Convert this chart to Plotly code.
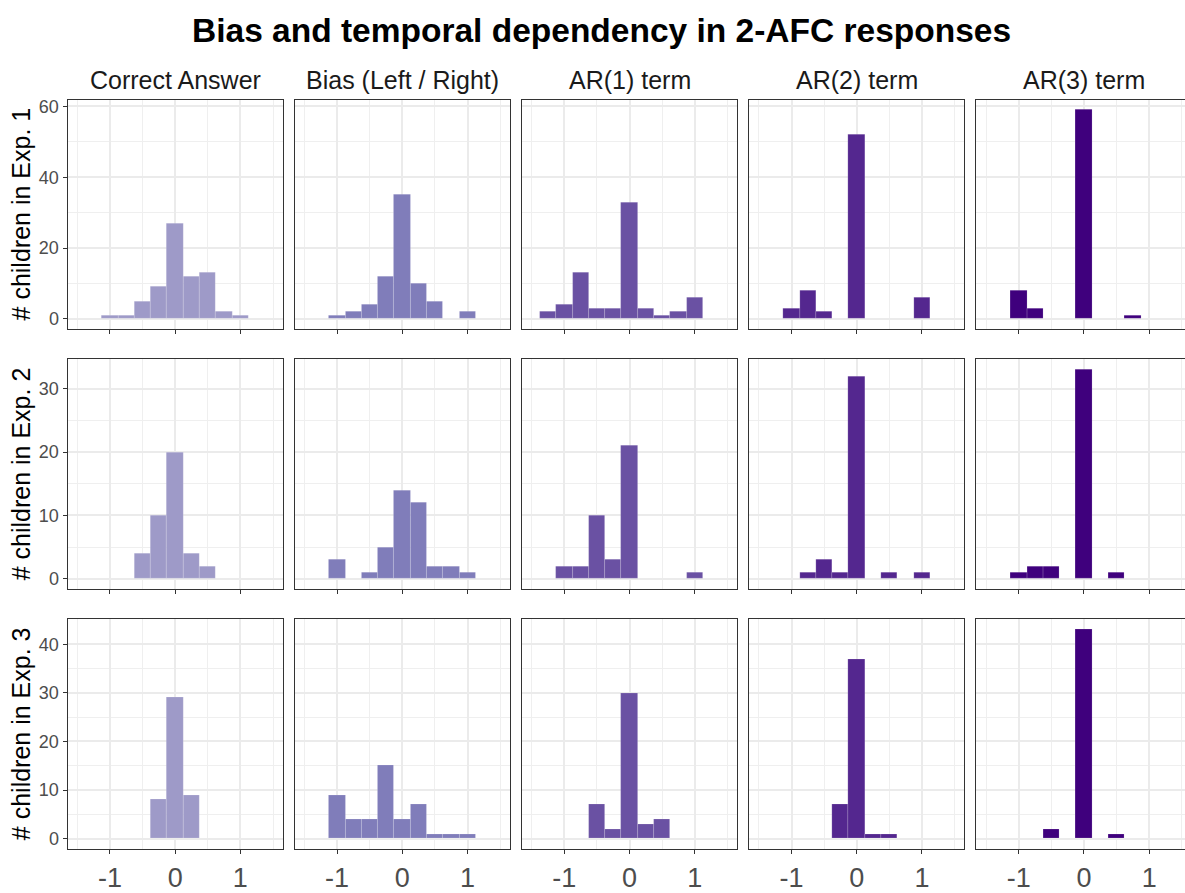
import plotly.graph_objects as go

# ---------------- data ----------------
bin_centers = [-1.25, -1.0, -0.75, -0.5, -0.25, 0.0, 0.25, 0.5, 0.75, 1.0]
bin_width = 0.25

terms = ["Correct Answer", "Bias (Left / Right)", "AR(1) term", "AR(2) term", "AR(3) term"]
experiments = ["# children in Exp. 1", "# children in Exp. 2", "# children in Exp. 3"]

exp1_correct = [0, 1, 1, 5, 9, 27, 12, 13, 2, 1]
exp1_bias    = [0, 1, 2, 4, 12, 35, 10, 5, 0, 2]
exp1_ar1     = [2, 4, 13, 3, 3, 33, 3, 1, 2, 6]
exp1_ar2     = [0, 3, 8, 2, 0, 52, 0, 0, 0, 6]
exp1_ar3     = [0, 8, 3, 0, 0, 59, 0, 0, 1, 0]

exp2_correct = [0, 0, 0, 4, 10, 20, 4, 2, 0, 0]
exp2_bias    = [0, 3, 0, 1, 5, 14, 12, 2, 2, 1]
exp2_ar1     = [0, 2, 2, 10, 3, 21, 0, 0, 0, 1]
exp2_ar2     = [0, 0, 1, 3, 1, 32, 0, 1, 0, 1]
exp2_ar3     = [0, 1, 2, 2, 0, 33, 0, 1, 0, 0]

exp3_correct = [0, 0, 0, 0, 8, 29, 9, 0, 0, 0]
exp3_bias    = [0, 9, 4, 4, 15, 4, 7, 1, 1, 1]
exp3_ar1     = [0, 0, 0, 7, 2, 30, 3, 4, 0, 0]
exp3_ar2     = [0, 0, 0, 0, 7, 37, 1, 1, 0, 0]
exp3_ar3     = [0, 0, 0, 2, 0, 43, 0, 1, 0, 0]

counts = [
    [exp1_correct, exp1_bias, exp1_ar1, exp1_ar2, exp1_ar3],
    [exp2_correct, exp2_bias, exp2_ar1, exp2_ar2, exp2_ar3],
    [exp3_correct, exp3_bias, exp3_ar1, exp3_ar2, exp3_ar3],
]

x_ticks = [-1, 0, 1]
x_minor = [-1.5, -0.5, 0.5, 1.5]
y_ticks = [[0, 20, 40, 60], [0, 10, 20, 30], [0, 10, 20, 30, 40]]
y_minor = [[10, 30, 50], [5, 15, 25], [5, 15, 25, 35]]

colors = ["#9E9AC8", "#807DBA", "#6A51A3", "#54278F", "#3F007D"]

# ---------------- layout geometry (pixels) ----------------
W, H = 1185, 893
col_left0, col_pitch, col_w = 67.5, 227.2, 215.3
row_top0, row_pitch, row_h = 98.3, 264.6, 234.0
x_lo, x_hi = -1.65, 1.65

fig = go.Figure()
axis_font = "Liberation Sans, Arial, sans-serif"

for r in range(3):
    ymax = max(max(c) for c in counts[r])
    pad = ymax * 0.05
    top = row_top0 + r * row_pitch
    bot = top + row_h
    ydom = [1 - bot / H, 1 - top / H]
    for c in range(5):
        idx = r * 5 + c + 1
        xs = "" if idx == 1 else str(idx)
        left = col_left0 + c * col_pitch
        right = left + col_w
        xr = [x_lo, x_hi]
        if right > W:
            # panel is cut at the page edge, as in the original
            frac = (W - left) / col_w
            xr = [x_lo, x_lo + frac * (x_hi - x_lo)]
            right = W
        xdom = [left / W, right / W]

        vals = counts[r][c]
        bx = [b for b, v in zip(bin_centers, vals) if v > 0]
        by = [v for v in vals if v > 0]
        fig.add_trace(go.Bar(
            x=bx, y=by, width=bin_width,
            marker=dict(color=colors[c], line=dict(color="rgba(255,255,255,0.3)", width=0.5)),
            xaxis="x" + xs, yaxis="y" + xs, showlegend=False, hoverinfo="x+y",
        ))

        fig.layout["xaxis" + xs] = dict(
            domain=xdom, range=xr, anchor="y" + xs,
            tickvals=x_ticks, ticktext=[str(t) for t in x_ticks],
            showticklabels=(r == 2),
            ticks="outside", ticklen=4, tickwidth=1, tickcolor="#333333",
            tickfont=dict(family=axis_font, size=27, color="#4D4D4D"),
            ticklabelstandoff=1,
            showgrid=True, gridcolor="#EBEBEB", gridwidth=1.6,
            minor=dict(tickvals=x_minor, showgrid=True, gridcolor="#EFEFEF", gridwidth=1, ticks=""),
            showline=True, linecolor="#333333", linewidth=1, mirror=True,
            zeroline=False, fixedrange=True,
        )
        fig.layout["yaxis" + xs] = dict(
            domain=ydom, range=[-pad, ymax + pad], anchor="x" + xs,
            tickvals=y_ticks[r], ticktext=[str(t) for t in y_ticks[r]],
            showticklabels=(c == 0),
            ticks="outside" if c == 0 else "", ticklen=4, tickwidth=1, tickcolor="#333333",
            tickfont=dict(family=axis_font, size=18, color="#4D4D4D"),
            showgrid=True, gridcolor="#EBEBEB", gridwidth=1.6,
            minor=dict(tickvals=y_minor[r], showgrid=True, gridcolor="#EFEFEF", gridwidth=1, ticks=""),
            showline=True, linecolor="#333333", linewidth=1, mirror=(c < 4),
            zeroline=False, fixedrange=True,
        )

annotations = []
# strip labels
for c, t in enumerate(terms):
    cx = col_left0 + c * col_pitch + col_w / 2
    annotations.append(dict(
        text=t, x=cx / W, y=1 - 78 / H, xref="paper", yref="paper",
        xanchor="center", yanchor="middle", showarrow=False,
        font=dict(family=axis_font, size=25, color="#1A1A1A"),
    ))
# row labels
for r, t in enumerate(experiments):
    cy = row_top0 + r * row_pitch + row_h / 2
    annotations.append(dict(
        text=t, x=21 / W, y=1 - cy / H, xref="paper", yref="paper",
        xanchor="center", yanchor="middle", showarrow=False, textangle=-90,
        font=dict(family=axis_font, size=25, color="#000000"),
    ))
# title
annotations.append(dict(
    text="<b>Bias and temporal dependency in 2-AFC responses</b>",
    x=601 / W, y=1 - 28 / H, xref="paper", yref="paper",
    xanchor="center", yanchor="middle", showarrow=False,
    font=dict(family=axis_font, size=33.5, color="#000000"),
))

fig.update_layout(
    width=W, height=H, autosize=False,
    margin=dict(l=0, r=0, t=0, b=0),
    paper_bgcolor="white", plot_bgcolor="white",
    bargap=0, annotations=annotations,
)

fig.write_html("out.html", config={"displayModeBar": False})
